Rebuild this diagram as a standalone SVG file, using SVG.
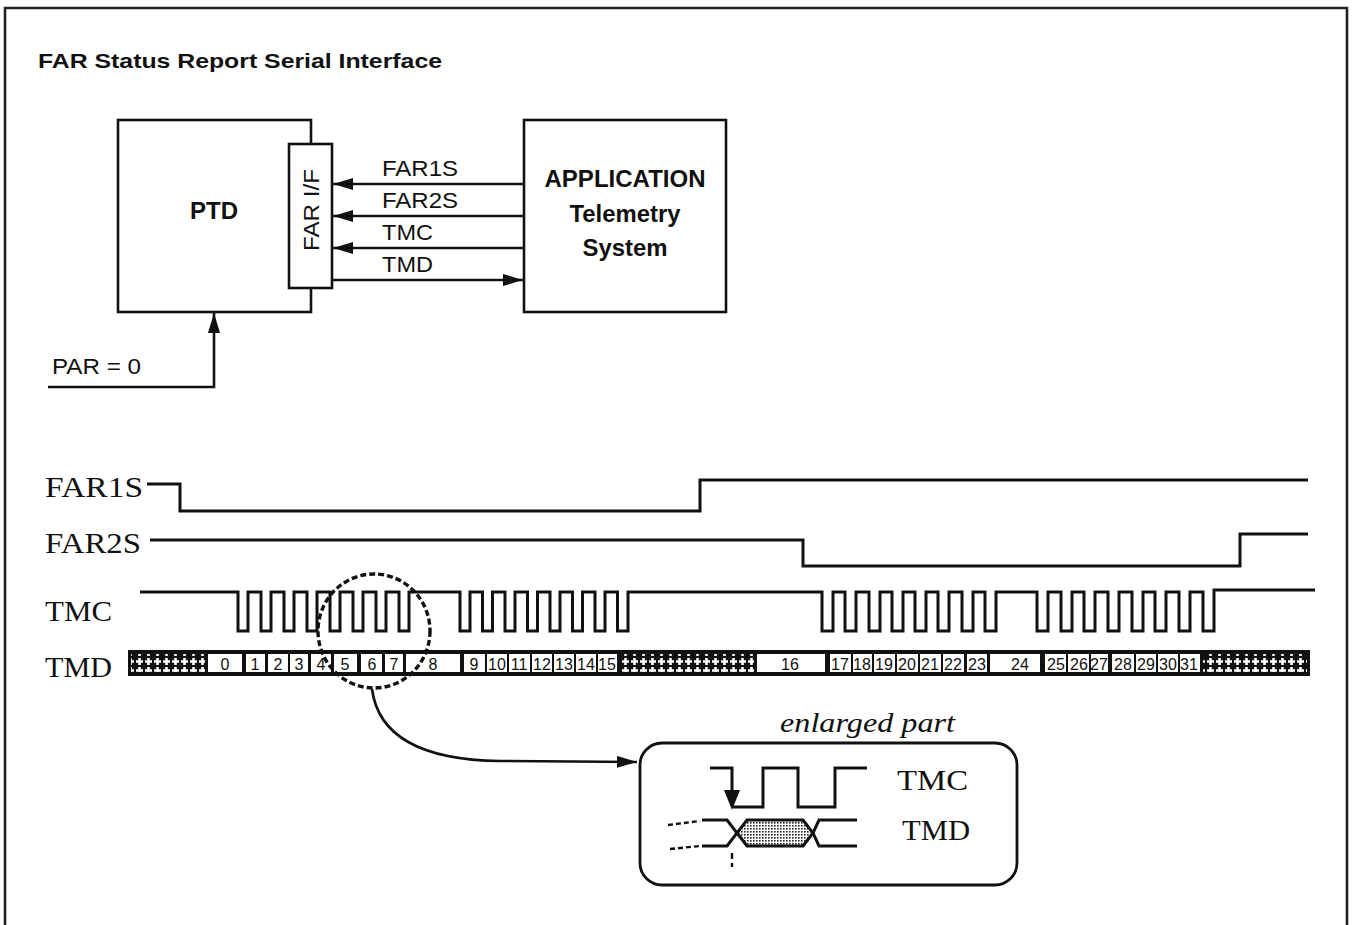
<svg xmlns="http://www.w3.org/2000/svg" width="1353" height="925" viewBox="0 0 1353 925">
<defs>
<style>
.ln{fill:none;stroke:#111;stroke-width:2.6}
.wf{fill:none;stroke:#111;stroke-width:3;stroke-linejoin:miter}
.sans{font-family:"Liberation Sans",Arial,sans-serif;fill:#111}
.b{font-weight:bold}
.serif{font-family:"Liberation Serif","Times New Roman",serif;fill:#111}
.num{font-family:"Liberation Sans",Arial,sans-serif;font-size:16px;fill:#111;text-anchor:middle}
.cell{fill:#fff}
</style>
<marker id="ah" viewBox="0 0 20 12" refX="20" refY="6" markerWidth="20" markerHeight="12" markerUnits="userSpaceOnUse" orient="auto">
<path d="M0,0 L20,6 L0,12 Z" fill="#111"/>
</marker>
<pattern id="hatch" width="9" height="9" patternUnits="userSpaceOnUse">
<rect width="9" height="9" fill="#111"/>
<path d="M4.5,1 V8 M1,4.5 H8" stroke="#fff" stroke-width="2.6"/>
</pattern>
<pattern id="dots" width="3" height="3" patternUnits="userSpaceOnUse">
<rect width="3" height="3" fill="#fff"/>
<rect width="1.6" height="1.6" fill="#222"/>
</pattern>
</defs>
<rect width="1353" height="925" fill="#fff"/>
<path d="M5,930 V8 H1347 V930" fill="none" stroke="#222" stroke-width="2.6"/>
<text class="sans b" x="38" y="68" font-size="21" textLength="404" lengthAdjust="spacingAndGlyphs">FAR Status Report Serial Interface</text>

<g id="ptd">
<rect class="ln" x="118" y="120" width="193" height="192"/>
<text class="sans b" x="214" y="219" font-size="23" text-anchor="middle" textLength="48" lengthAdjust="spacingAndGlyphs">PTD</text>
</g>
<g id="far-if">
<rect x="289" y="144" width="43" height="144" fill="#fff" stroke="#111" stroke-width="2.6"/>
<text class="sans" transform="translate(319,210) rotate(-90)" font-size="22" text-anchor="middle" textLength="82" lengthAdjust="spacingAndGlyphs">FAR I/F</text>
</g>
<g id="application">
<rect class="ln" x="524" y="120" width="202" height="192"/>
<text class="sans b" x="625" y="187" font-size="23" text-anchor="middle" textLength="161" lengthAdjust="spacingAndGlyphs">APPLICATION</text>
<text class="sans b" x="625" y="222" font-size="23" text-anchor="middle" textLength="111" lengthAdjust="spacingAndGlyphs">Telemetry</text>
<text class="sans b" x="625" y="256" font-size="23" text-anchor="middle" textLength="85" lengthAdjust="spacingAndGlyphs">System</text>
</g>
<g id="par">
<text class="sans" x="52" y="374" font-size="22" textLength="89" lengthAdjust="spacingAndGlyphs">PAR = 0</text>
</g>

<g id="connectors">
<path class="ln" d="M524,184 H333" marker-end="url(#ah)"/>
<path class="ln" d="M524,216 H333" marker-end="url(#ah)"/>
<path class="ln" d="M524,248 H333" marker-end="url(#ah)"/>
<path class="ln" d="M332,280 H523" marker-end="url(#ah)"/>
<path class="ln" d="M48,387 H214 V313" marker-end="url(#ah)"/>
<path class="ln" d="M372,689 C378,735 420,760 500,761 L637,762" stroke-width="2.4" marker-end="url(#ah)"/>
</g>
<g id="connector-labels">
<text class="sans" x="382" y="176" font-size="22" textLength="76" lengthAdjust="spacingAndGlyphs">FAR1S</text>
<text class="sans" x="382" y="208" font-size="22" textLength="76" lengthAdjust="spacingAndGlyphs">FAR2S</text>
<text class="sans" x="382" y="240" font-size="22" textLength="51" lengthAdjust="spacingAndGlyphs">TMC</text>
<text class="sans" x="382" y="272" font-size="22" textLength="51" lengthAdjust="spacingAndGlyphs">TMD</text>
</g>

<g id="timing-labels">
<text class="serif" x="45" y="497" font-size="29" textLength="98" lengthAdjust="spacingAndGlyphs">FAR1S</text>
<text class="serif" x="45" y="553" font-size="29" textLength="96" lengthAdjust="spacingAndGlyphs">FAR2S</text>
<text class="serif" x="45" y="621" font-size="29" textLength="67" lengthAdjust="spacingAndGlyphs">TMC</text>
<text class="serif" x="45" y="677" font-size="29" textLength="67" lengthAdjust="spacingAndGlyphs">TMD</text>
</g>

<g id="far1s-wave">
<path class="wf" d="M147,484 H180 V511 H700 V480 H1308"/>
</g>
<g id="far2s-wave">
<path class="wf" d="M150,540 H803 V566 H1240 V534 H1308"/>
</g>
<g id="tmc-wave">
<path class="wf" d="M140,592 H238 V631 H248 V592 H261 V631 H271 V592 H284 V631 H294 V592 H307 V631 H317 V592 H330 V631 H340 V592 H353 V631 H363 V592 H376 V631 H386 V592 H399 V631 H409 V592 H460 V631 H470 V592 H482.5 V631 H492.5 V592 H505 V631 H515 V592 H527.5 V631 H537.5 V592 H550 V631 H560 V592 H572.5 V631 H582.5 V592 H595 V631 H605 V592 H617.5 V631 H628 V592 H822 V631 H833 V592 H845 V631 H856 V592 H869 V631 H880 V592 H892 V631 H903 V592 H915 V631 H926 V592 H938 V631 H949 V592 H962 V631 H973 V592 H985 V631 H996 V592 H1037 V631 H1048 V592 H1061 V631 H1072 V592 H1084 V631 H1095 V592 H1108 V631 H1119 V592 H1132 V631 H1143 V592 H1155 V631 H1166 V592 H1179 V631 H1190 V592 H1203 V631 H1214 V590 H1315"/>
</g>

<g id="tmd-bar">
<rect x="128" y="650" width="1182" height="26" fill="#111"/>
<rect x="131" y="654" width="74" height="18" fill="url(#hatch)"/>
<rect x="620" y="654" width="134" height="18" fill="url(#hatch)"/>
<rect x="1203" y="654" width="104" height="18" fill="url(#hatch)"/>
<rect class="cell" x="208" y="654" width="34" height="18"/>
<rect class="cell" x="246" y="654" width="19" height="18"/>
<rect class="cell" x="268" y="654" width="20" height="18"/>
<rect class="cell" x="290" y="654" width="18" height="18"/>
<rect class="cell" x="311" y="654" width="20" height="18"/>
<rect class="cell" x="334" y="654" width="23" height="18"/>
<rect class="cell" x="361" y="654" width="21" height="18"/>
<rect class="cell" x="385" y="654" width="18" height="18"/>
<rect class="cell" x="406" y="654" width="54" height="18"/>
<rect class="cell" x="464" y="654" width="21" height="18"/>
<rect class="cell" x="487" y="654" width="20" height="18"/>
<rect class="cell" x="509" y="654" width="21" height="18"/>
<rect class="cell" x="532" y="654" width="20" height="18"/>
<rect class="cell" x="554" y="654" width="20" height="18"/>
<rect class="cell" x="576" y="654" width="20" height="18"/>
<rect class="cell" x="598" y="654" width="19" height="18"/>
<rect class="cell" x="757" y="654" width="68" height="18"/>
<rect class="cell" x="830" y="654" width="21" height="18"/>
<rect class="cell" x="853" y="654" width="19" height="18"/>
<rect class="cell" x="874" y="654" width="21" height="18"/>
<rect class="cell" x="897" y="654" width="21" height="18"/>
<rect class="cell" x="920" y="654" width="21" height="18"/>
<rect class="cell" x="943" y="654" width="21" height="18"/>
<rect class="cell" x="967" y="654" width="20" height="18"/>
<rect class="cell" x="990" y="654" width="50" height="18"/>
<rect class="cell" x="1045" y="654" width="21" height="18"/>
<rect class="cell" x="1068" y="654" width="21" height="18"/>
<rect class="cell" x="1091" y="654" width="17" height="18"/>
<rect class="cell" x="1112" y="654" width="22" height="18"/>
<rect class="cell" x="1136" y="654" width="20" height="18"/>
<rect class="cell" x="1158" y="654" width="20" height="18"/>
<rect class="cell" x="1180" y="654" width="20" height="18"/>
<text class="num" x="225" y="670">0</text>
<text class="num" x="255" y="670">1</text>
<text class="num" x="278" y="670">2</text>
<text class="num" x="299" y="670">3</text>
<text class="num" x="321" y="670">4</text>
<text class="num" x="345" y="670">5</text>
<text class="num" x="372" y="670">6</text>
<text class="num" x="394" y="670">7</text>
<text class="num" x="433" y="670">8</text>
<text class="num" x="474" y="670">9</text>
<text class="num" x="497" y="670">10</text>
<text class="num" x="519" y="670">11</text>
<text class="num" x="542" y="670">12</text>
<text class="num" x="564" y="670">13</text>
<text class="num" x="586" y="670">14</text>
<text class="num" x="607" y="670">15</text>
<text class="num" x="790" y="670">16</text>
<text class="num" x="840" y="670">17</text>
<text class="num" x="862" y="670">18</text>
<text class="num" x="884" y="670">19</text>
<text class="num" x="907" y="670">20</text>
<text class="num" x="930" y="670">21</text>
<text class="num" x="953" y="670">22</text>
<text class="num" x="977" y="670">23</text>
<text class="num" x="1020" y="670">24</text>
<text class="num" x="1056" y="670">25</text>
<text class="num" x="1079" y="670">26</text>
<text class="num" x="1099" y="670">27</text>
<text class="num" x="1123" y="670">28</text>
<text class="num" x="1146" y="670">29</text>
<text class="num" x="1168" y="670">30</text>
<text class="num" x="1189" y="670">31</text>
</g>

<g id="zoom-circle">
<ellipse cx="374" cy="631" rx="56" ry="57" fill="none" stroke="#111" stroke-width="3.4" stroke-dasharray="6 3"/>
</g>

<g id="enlarged-part">
<text class="serif" x="780" y="732" font-size="27" font-style="italic" textLength="175" lengthAdjust="spacingAndGlyphs">enlarged part</text>
<rect x="640" y="743" width="377" height="142" rx="22" ry="22" fill="none" stroke="#111" stroke-width="2.8"/>
<path class="wf" d="M710,768 H732 V792"/>
<path d="M724,790 L740,790 L732,810 Z" fill="#111"/>
<path class="wf" d="M733,807 H763 V768 H798 V807 H835 V768 H867"/>
<path d="M747,820 H803 L813,833 L803,846 H747 L737,833 Z" fill="url(#dots)" stroke="#111" stroke-width="3"/>
<path class="wf" d="M702,820 H727 L737,833 L727,846 H702"/>
<path class="wf" d="M857,820 H819 L813,833 L819,846 H857"/>
<path d="M668,825 L700,821 M670,849 L700,846" fill="none" stroke="#111" stroke-width="2.4" stroke-dasharray="5 3"/>
<path d="M732,853 V867" fill="none" stroke="#111" stroke-width="2.4" stroke-dasharray="6 4"/>
<text class="serif" x="897" y="790" font-size="30" textLength="71" lengthAdjust="spacingAndGlyphs">TMC</text>
<text class="serif" x="902" y="840" font-size="30" textLength="68" lengthAdjust="spacingAndGlyphs">TMD</text>
</g>
</svg>
